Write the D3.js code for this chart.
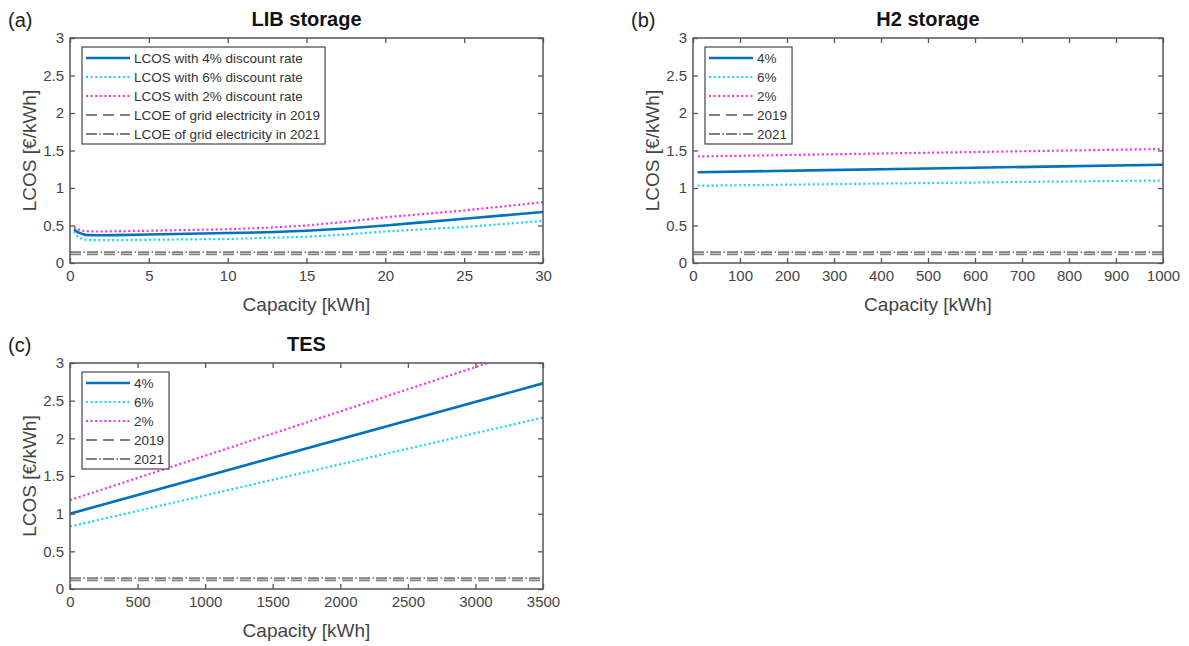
<!DOCTYPE html>
<html lang="en">
<head>
<meta charset="UTF-8">
<script src="https://d3js.org/d3.v7.min.js"></script>
<title>LCOS of storage options</title>
<style>
    body { margin: 0; background: #fff; }
    svg { font-family: "Liberation Sans", Arial, sans-serif; }
    .axis path { display: none; }
    .axis line { stroke: #555; stroke-width: 1.3; }
    .axis text { font-size: 15px; fill: #444; }
    rect.frame { fill: none; stroke: #555; stroke-width: 1.5; }
    text.title { font-size: 20px; font-weight: bold; fill: #111; text-anchor: middle; }
    text.tag { font-size: 20px; fill: #222; }
    text.alabel { font-size: 19px; fill: #444; text-anchor: middle; }
    text.leg { font-size: 13.5px; fill: #333; }
    rect.legbox { fill: #fff; stroke: #444; stroke-width: 1.2; }
</style>
</head>
<body>
<svg width="1189" height="646"></svg>
<script>
    // (a) LIB storage
    const libCapacity = [0.25, 0.5, 0.8, 1, 1.5, 2, 3, 5, 7.5, 10, 12.5, 15, 17.5, 20, 22.5, 25, 27.5, 30];
    const lib4 = [0.45, 0.41, 0.385, 0.375, 0.37, 0.37, 0.372, 0.38, 0.39, 0.40, 0.41, 0.43, 0.46, 0.50, 0.545, 0.59, 0.635, 0.68];
    const lib6 = [0.42, 0.35, 0.32, 0.31, 0.305, 0.305, 0.305, 0.31, 0.315, 0.32, 0.335, 0.35, 0.38, 0.42, 0.45, 0.48, 0.52, 0.56];
    const lib2 = [0.48, 0.45, 0.43, 0.425, 0.42, 0.42, 0.425, 0.43, 0.44, 0.45, 0.47, 0.50, 0.55, 0.61, 0.655, 0.70, 0.755, 0.81];

    // (b) H2 storage
    const h2Capacity = [10, 250, 500, 750, 1000];
    const h2_4 = [1.21, 1.235, 1.26, 1.285, 1.31];
    const h2_6 = [1.03, 1.048, 1.066, 1.084, 1.10];
    const h2_2 = [1.42, 1.445, 1.47, 1.495, 1.52];

    // (c) TES
    const tesCapacity = [0, 3500];
    const tes4 = [1.0, 2.73];
    const tes6 = [0.83, 2.275];
    const tes2 = [1.18, 3.24];

    // grid electricity
    const grid2019 = 0.115;
    const grid2021 = 0.145;

    const yTicks = [0, 0.5, 1, 1.5, 2, 2.5, 3];
    const libTicks = [0, 5, 10, 15, 20, 25, 30];
    const h2Ticks = [0, 100, 200, 300, 400, 500, 600, 700, 800, 900, 1000];
    const tesTicks = [0, 500, 1000, 1500, 2000, 2500, 3000, 3500];

    const longLegend = ["LCOS with 4% discount rate", "LCOS with 6% discount rate", "LCOS with 2% discount rate",
        "LCOE of grid electricity in 2019", "LCOE of grid electricity in 2021"];
    const shortLegend = ["4%", "6%", "2%", "2019", "2021"];

    const styles = [
        {stroke: "#0072BD", width: 2.6, dash: null},
        {stroke: "#12d6f5", width: 2.2, dash: "2,2.6"},
        {stroke: "#f52ee6", width: 2.2, dash: "2,2.6"},
        {stroke: "#808080", width: 1.8, dash: "11,6"},
        {stroke: "#808080", width: 1.8, dash: "11,2.5,1.6,1.9"}
    ];

    const svg = d3.select("svg");

    drawPanel("a", {x0: 70, x1: 543, y0: 38, y1: 263}, "LIB storage", [0, 30], libTicks,
        libCapacity, [lib4, lib6, lib2], longLegend);
    drawPanel("b", {x0: 693, x1: 1163, y0: 38, y1: 263}, "H2 storage", [0, 1000], h2Ticks,
        h2Capacity, [h2_4, h2_6, h2_2], shortLegend);
    drawPanel("c", {x0: 70, x1: 543, y0: 363, y1: 589}, "TES", [0, 3500], tesTicks,
        tesCapacity, [tes4, tes6, tes2], shortLegend);

    function drawPanel(id, box, title, xDomain, xTicks, cap, series, legend) {
        const x = d3.scaleLinear().domain(xDomain).range([box.x0, box.x1]);
        const y = d3.scaleLinear().domain([0, 3]).range([box.y1, box.y0]);
        const g = svg.append("g");

        g.append("clipPath").attr("id", "clip-" + id)
            .append("rect").attr("x", box.x0).attr("y", box.y0)
            .attr("width", box.x1 - box.x0).attr("height", box.y1 - box.y0);

        // grid electricity levels
        [grid2019, grid2021].forEach((v, i) => {
            const s = styles[3 + i];
            g.append("line").attr("clip-path", `url(#clip-${id})`)
                .attr("x1", x(xDomain[0])).attr("x2", x(xDomain[1]))
                .attr("y1", y(v)).attr("y2", y(v))
                .attr("stroke", s.stroke).attr("stroke-width", s.width)
                .attr("stroke-dasharray", s.dash);
        });

        const line = d3.line().x(d => x(d[0])).y(d => y(d[1]));
        // draw 6% and 2% first, 4% on top
        [1, 2, 0].forEach(i => {
            const s = styles[i];
            g.append("path").attr("clip-path", `url(#clip-${id})`)
                .datum(cap.map((c, k) => [c, series[i][k]]))
                .attr("d", line).attr("fill", "none")
                .attr("stroke", s.stroke).attr("stroke-width", s.width)
                .attr("stroke-dasharray", s.dash);
        });

        // axes with inward ticks, MATLAB style box
        g.append("g").attr("class", "axis").attr("transform", `translate(0,${box.y1})`)
            .call(d3.axisBottom(x).tickValues(xTicks).tickSizeInner(-5).tickSizeOuter(0).tickPadding(7)
                .tickFormat(d3.format("")));
        g.append("g").attr("class", "axis").attr("transform", `translate(0,${box.y0})`)
            .call(d3.axisTop(x).tickValues(xTicks).tickSizeInner(-5).tickSizeOuter(0).tickFormat(""));
        g.append("g").attr("class", "axis").attr("transform", `translate(${box.x0},0)`)
            .call(d3.axisLeft(y).tickValues(yTicks).tickSizeInner(-5).tickSizeOuter(0).tickPadding(6)
                .tickFormat(d3.format("")));
        g.append("g").attr("class", "axis").attr("transform", `translate(${box.x1},0)`)
            .call(d3.axisRight(y).tickValues(yTicks).tickSizeInner(-5).tickSizeOuter(0).tickFormat(""));
        g.append("rect").attr("class", "frame")
            .attr("x", box.x0).attr("y", box.y0)
            .attr("width", box.x1 - box.x0).attr("height", box.y1 - box.y0);

        // texts
        g.append("text").attr("class", "title")
            .attr("x", (box.x0 + box.x1) / 2).attr("y", box.y0 - 12).text(title);
        g.append("text").attr("class", "tag")
            .attr("x", box.x0 - 62).attr("y", box.y0 - 11).text(`(${id})`);
        g.append("text").attr("class", "alabel")
            .attr("x", (box.x0 + box.x1) / 2).attr("y", box.y1 + 48).text("Capacity [kWh]");
        g.append("text").attr("class", "alabel")
            .attr("transform", `translate(${box.x0 - 34},${(box.y0 + box.y1) / 2}) rotate(-90)`)
            .text("LCOS [€/kWh]");

        // legend
        const lx = box.x0 + 12, ly = box.y0 + 9, rowH = 19;
        const lg = g.append("g");
        const bg = lg.append("rect").attr("class", "legbox");
        let maxEnd = 0;
        legend.forEach((name, i) => {
            const cy = ly + 11 + i * rowH;
            const s = styles[i];
            lg.append("line").attr("x1", lx + 4).attr("x2", lx + 48)
                .attr("y1", cy).attr("y2", cy)
                .attr("stroke", s.stroke).attr("stroke-width", s.width)
                .attr("stroke-dasharray", s.dash);
            const t = lg.append("text").attr("class", "leg")
                .attr("x", lx + 52).attr("y", cy + 5).text(name);
            maxEnd = Math.max(maxEnd, lx + 52 + t.node().getComputedTextLength());
        });
        bg.attr("x", lx).attr("y", ly)
            .attr("width", maxEnd + 5 - lx).attr("height", legend.length * rowH + 2);
    }
</script>
</body>
</html>
